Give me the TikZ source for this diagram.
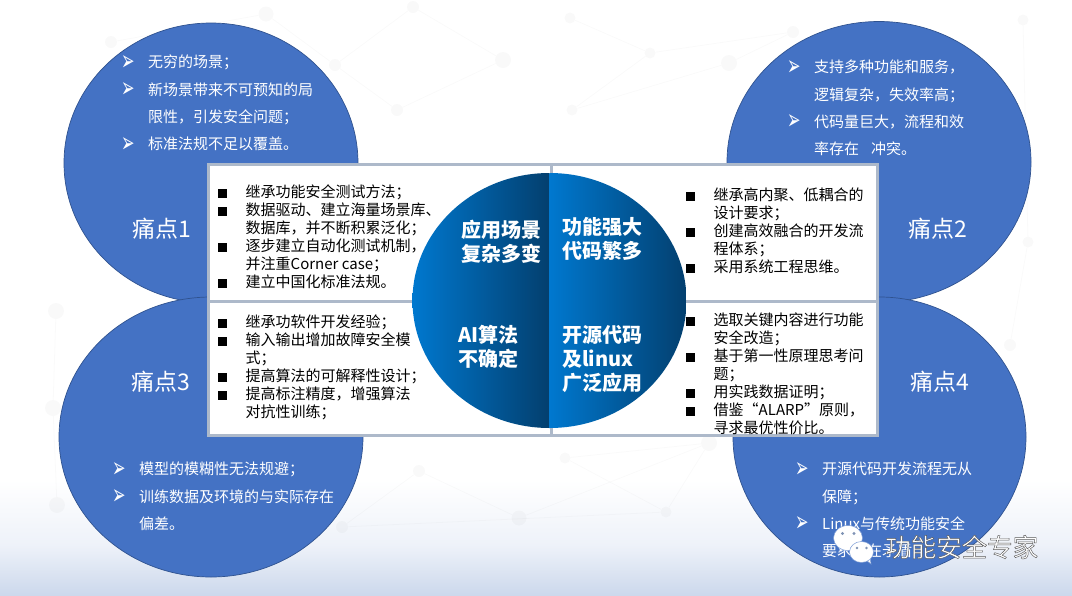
\documentclass[tikz,border=0pt]{standalone}
\usepackage{fontspec}
\usepackage{graphicx}
\setmainfont{Noto Sans CJK SC}
\newfontfamily\symfont{DejaVu Sans}
\usetikzlibrary{shapes.geometric}
\definecolor{pain}{HTML}{4472C4}
\definecolor{painedge}{HTML}{2F528F}
\definecolor{frameblue}{HTML}{ADB9CA}
\definecolor{midbright}{HTML}{0078CF}
\definecolor{middark}{HTML}{033F6E}
\definecolor{bgbottom}{HTML}{CCD8EC}
\definecolor{bgmiddle}{HTML}{EEF2F9}
\definecolor{eyecol}{HTML}{7F93B5}
\newcommand{\arrowmk}{\makebox[27pt][l]{\smash{\raisebox{-2.5pt}{\scalebox{1.15}[2.0]{\fontsize{14}{14}\selectfont\symfont ➢}}}}}
\newcommand{\boxmk}{\makebox[27.5pt][l]{\rule[-0.5pt]{9pt}{9pt}}}
\newcommand{\nomk}{\hspace*{27.5pt}}
\newcommand{\noarrow}{\hspace*{27pt}}
\tikzset{
  x=1pt,y=-1pt,
  painpoint/.style={draw=painedge,line width=0.7pt,fill=pain},
  panel/.style={draw=frameblue,line width=3pt,fill=white},
  paintitle/.style={text=white,font=\fontsize{23}{26}\selectfont,inner sep=0pt},
  paintext/.style={text=white,anchor=north west,align=left,inner sep=0pt,font=\fontsize{15}{27.2}\selectfont},
  paneltext/.style={text=black,anchor=north west,align=left,inner sep=0pt,font=\fontsize{15}{18}\selectfont},
  midtext/.style={text=white,anchor=north west,align=left,inner sep=0pt,font=\fontsize{20}{24}\selectfont\bfseries},
  netline/.style={draw=black,draw opacity=0.02,line width=0.8pt},
  netdot/.style={circle,fill=black,fill opacity=0.022,inner sep=0pt,minimum size=#1},
  bubble/.style={fill=white,draw=pain!70!white,line width=0.5pt},
  eye/.style={fill=eyecol}
}
\begin{document}
\begin{tikzpicture}
\useasboundingbox (0,0) rectangle (1072,595);
% background
\fill[white] (0,0) rectangle (1072,595);
\shade[top color=white,bottom color=bgmiddle] (0,480) rectangle (1072,545);
\shade[top color=bgmiddle,bottom color=bgbottom] (0,545) rectangle (1072,595);
% faint network
\foreach \n/\px/\py/\s in {a/111/42/12pt,b/266/14/15pt,c/413/7/12pt,d/335/65/12pt,e/503/60/16pt,f/397/110/12pt,g/570/18/11pt,h/650/53/11pt,i/793/32/12pt,j/729/63/16pt,k/572/110/11pt,l/1023/20/11pt,m/1028/242/11pt,n/56/311/16pt,o/53/408/16pt,p/57/505/16pt,q/419/471/12pt,r/342/527/12pt,s/519/518/15pt,t/565/458/11pt,u/709/443/16pt,v/666/512/11pt,w/1010/345/12pt}
  {\node[netdot=\s] (net\n) at (\px,\py) {};}
\foreach \p/\q in {a/b,b/d,d/f,c/e,e/f,c/d,g/h,h/k,h/i,i/j,j/k,l/m,n/o,o/p,q/s,r/q,t/u,t/v,u/v,v/r,s/u,w/m}
  {\draw[netline] (net\p) -- (net\q);}
% pain point circles
\node[painpoint,ellipse,minimum width=294pt,minimum height=280pt,inner sep=0pt] (c1) at (211,163) {};
\node[painpoint,ellipse,minimum width=304pt,minimum height=281pt,inner sep=0pt] (c2) at (879,162) {};
\node[painpoint,ellipse,minimum width=304pt,minimum height=280pt,inner sep=0pt] (c3) at (211,437) {};
\node[painpoint,ellipse,minimum width=293pt,minimum height=280pt,inner sep=0pt] (c4) at (879.5,437) {};
% panels
\draw[panel] (208.5,164.5) rectangle (551,301);
\draw[panel] (551,164) rectangle (877.5,301);
\draw[panel] (208.5,301) rectangle (551,435.5);
\draw[panel] (551,301) rectangle (877.5,435.5);
% middle disc
\begin{scope}
\clip (549.5,300.5) ellipse [x radius=137,y radius=127.5];
\shade[left color=midbright,right color=middark] (412,173) rectangle (549.5,428);
\shade[left color=midbright,right color=middark] (549.5,173) rectangle (687,428);
\end{scope}
% pain titles
\node[paintitle] (t1) at (162,229) {痛点1};
\node[paintitle] (t2) at (938,229) {痛点2};
\node[paintitle] (t3) at (161,382) {痛点3};
\node[paintitle] (t4) at (940,382) {痛点4};
% pain texts
\node[paintext] (p1) at (121,55) {\arrowmk 无穷的场景；\\\arrowmk 新场景带来不可预知的局\\\noarrow 限性，引发安全问题；\\\arrowmk 标准法规不足以覆盖。};
\node[paintext] (p2) at (787,60) {\arrowmk 支持多种功能和服务，\\\noarrow 逻辑复杂，失效率高；\\\arrowmk 代码量巨大，流程和效\\\noarrow 率存在\hspace{12pt}冲突。};
\node[paintext] (p3) at (112,462) {\arrowmk 模型的模糊性无法规避；\\\arrowmk 训练数据及环境的与实际存在\\\noarrow 偏差。};
\node[paintext] (p4) at (795,462) {\arrowmk 开源代码开发流程无从\\\noarrow 保障；\\\arrowmk Linux与传统功能安全\\\noarrow 要求存在矛盾};
% panel texts
\node[paneltext] (b1) at (218,185) {\boxmk 继承功能安全测试方法；\\\boxmk 数据驱动、建立海量场景库、\\\nomk 数据库，并不断积累泛化；\\\boxmk 逐步建立自动化测试机制，\\\nomk 并注重Corner case；\\\boxmk 建立中国化标准法规。};
\node[paneltext] (b2) at (686,188) {\boxmk 继承高内聚、低耦合的\\\nomk 设计要求；\\\boxmk 创建高效融合的开发流\\\nomk 程体系；\\\boxmk 采用系统工程思维。};
\node[paneltext] (b3) at (218,315) {\boxmk 继承功软件开发经验；\\\boxmk 输入输出增加故障安全模\\\nomk 式；\\\boxmk 提高算法的可解释性设计；\\\boxmk 提高标注精度，增强算法\\\nomk 对抗性训练；};
\node[paneltext] (b4) at (686,313) {\boxmk 选取关键内容进行功能\\\nomk 安全改造；\\\boxmk 基于第一性原理思考问\\\nomk 题；\\\boxmk 用实践数据证明；\\\boxmk 借鉴“ALARP”原则，\\\nomk 寻求最优性价比。};
% middle labels
\node[midtext] (m1) at (461,220) {应用场景\\复杂多变};
\node[midtext] (m2) at (562,217) {功能强大\\代码繁多};
\node[midtext] (m3) at (458,325) {AI算法\\不确定};
\node[midtext] (m4) at (562,325) {开源代码\\及linux\\广泛应用};
% watermark
\filldraw[bubble] (838,553) -- (841,547) -- (846,549) -- cycle;
\filldraw[bubble] (848,538) ellipse [x radius=14.5,y radius=12.5];
\fill[eye] (842.5,533.5) circle [radius=1.6];
\fill[eye] (854,533.5) circle [radius=1.6];
\filldraw[bubble] (871,564) -- (866,560) -- (870,557) -- cycle;
\filldraw[bubble] (861.5,552) ellipse [x radius=12,y radius=10.5];
\fill[eye] (857,548) circle [radius=1.4];
\fill[eye] (866.5,548) circle [radius=1.4];
\node[text=white,font=\fontsize{25.5}{26}\selectfont,inner sep=0pt,anchor=west] (wm) at (885,547) {\special{pdf:code q 2 Tr 0.45 w 0.35 0.35 0.35 RG 1 1 1 rg}功能安全专家\special{pdf:code Q}};
\end{tikzpicture}
\end{document}
